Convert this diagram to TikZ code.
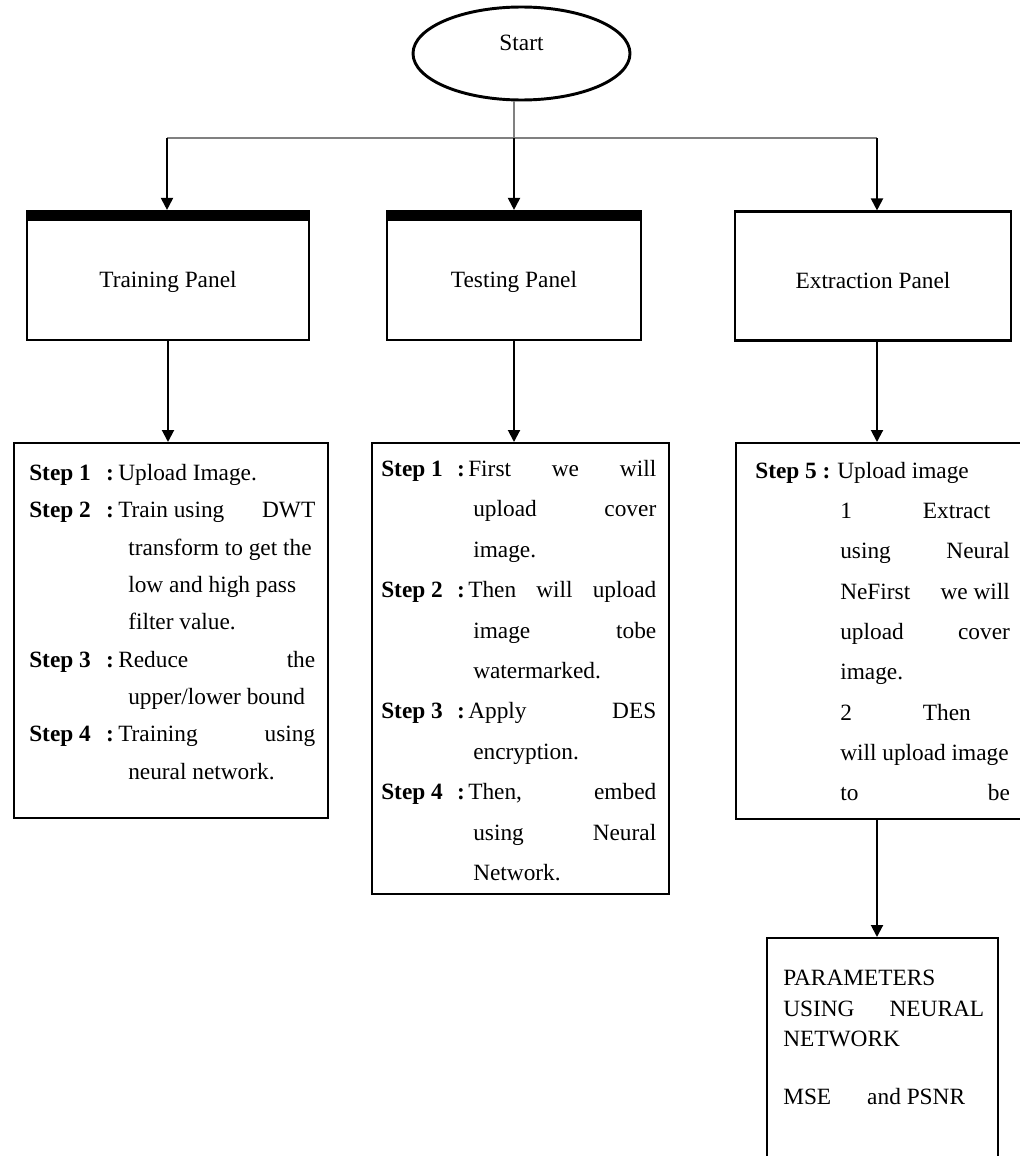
\documentclass[tikz,border=0pt]{standalone}
\usepackage{fontspec}
\setmainfont{Liberation Serif}
\usepackage{array}
\usetikzlibrary{shapes.geometric,arrows.meta}

\begin{document}
\begin{tikzpicture}[x=0.75pt,y=0.75pt,yscale=-1,xscale=1,
  every node/.style={font=\fontsize{17.5}{28}\selectfont},
  panelbox/.style={draw,line width=1.6pt,minimum height=96.75pt,inner sep=0pt,text height=20pt,text depth=2pt},
  stepsbox/.style={draw,line width=1.6pt,inner sep=0pt,anchor=north west},
  stepstext/.style={inner sep=0pt,anchor=north west},
  busline/.style={draw=gray,line width=0.8pt},
  arrowline/.style={line width=1.5pt,-{Triangle[length=9pt,width=9pt]}}]
\useasboundingbox (0,0) rectangle (1020,1156);
\clip (0,0) rectangle (1020,1156);

%Shape: Ellipse [start]
\node[draw,ellipse,line width=2.2pt,minimum width=162.75pt,minimum height=69.75pt,inner sep=0pt,text height=12pt,text depth=16pt] (start) at (521.5,53.5) {Start};

%Shape: Rectangle [panels]
\node[panelbox,minimum width=211.5pt] (trainpanel) at (168,275.5) {Training Panel};
\node[panelbox,minimum width=190.5pt] (testpanel) at (514,275.5) {Testing Panel};
\node[panelbox,minimum width=207pt] (extpanel) at (873,276) {Extraction Panel};
\fill (trainpanel.north west) rectangle ++(282,11);
\fill (testpanel.north west) rectangle ++(254,11);

%Shape: Rectangle [step boxes]
\node[stepsbox,minimum width=235.5pt,minimum height=281.25pt] (trainsteps) at (13,442) {};
\node[stepsbox,minimum width=222.75pt,minimum height=338.25pt] (teststeps) at (371,442) {};
\node[stepsbox,minimum width=216.75pt,minimum height=282pt] (extsteps) at (735,442) {};
\node[stepsbox,minimum width=173.25pt,minimum height=174.75pt] (params) at (766,937) {};

%Straight Lines [bus]
\coordinate (bus1) at (167,138);
\coordinate (bus2) at (514,138);
\coordinate (bus3) at (877,138);
\draw[busline] (start.south -| bus2) -- (bus2);
\draw[busline] (bus1) -- (bus3);

%Straight Lines [arrows]
\draw[arrowline] (bus1) -- (bus1 |- trainpanel.north);
\draw[arrowline] (bus2) -- (bus2 |- testpanel.north);
\draw[arrowline] (bus3) -- (bus3 |- extpanel.north);
\draw[arrowline] (trainpanel.south) -- (trainpanel.south |- trainsteps.north);
\draw[arrowline] (testpanel.south) -- (testpanel.south |- teststeps.north);
\draw[arrowline] (bus3 |- extpanel.south) -- (bus3 |- extsteps.north);
\draw[arrowline] (bus3 |- extsteps.south) -- (bus3 |- params.north);

% Text Node
\node[stepstext] (traintext) at (29,454) {\begin{tabular}{@{}p{57.75pt}@{}p{9pt}@{}p{147.75pt}@{}}
\textbf{Step 1} & \textbf{:} & Upload Image.\\
\textbf{Step 2} & \textbf{:} & Train using \hfill DWT\\
 & & \hspace*{7.5pt}transform to get the\\
 & & \hspace*{7.5pt}low and high pass\\
 & & \hspace*{7.5pt}filter value.\\
\textbf{Step 3} & \textbf{:} & Reduce \hfill the\\
 & & \hspace*{7.5pt}upper/lower bound\\
\textbf{Step 4} & \textbf{:} & Training \hfill using\\
 & & \hspace*{7.5pt}neural network.
\end{tabular}};
% Text Node
\node[stepstext] (testtext) at (381,448) {\fontsize{17.5}{30.3}\selectfont\begin{tabular}{@{}p{57pt}@{}p{8.25pt}@{}p{141pt}@{}}
\textbf{Step 1} & \textbf{:} & First \hfill we \hfill will\\
 & & \hspace*{3.75pt}upload \hfill cover\\
 & & \hspace*{3.75pt}image.\\
\textbf{Step 2} & \textbf{:} & Then \hfill will \hfill upload\\
 & & \hspace*{3.75pt}image \hfill tobe\\
 & & \hspace*{3.75pt}watermarked.\\
\textbf{Step 3} & \textbf{:} & Apply \hfill DES\\
 & & \hspace*{3.75pt}encryption.\\
\textbf{Step 4} & \textbf{:} & Then, \hfill embed\\
 & & \hspace*{3.75pt}using \hfill Neural\\
 & & \hspace*{3.75pt}Network.
\end{tabular}};
% Text Node
\node[stepstext] (exttext) at (755,450) {\fontsize{17.5}{30.2}\selectfont\begin{tabular}{@{}p{61.5pt}@{}p{129.5pt}@{}}
\textbf{Step 5 :} & Upload image\\
 & \hspace*{2.25pt}\makebox[62pt][l]{1}Extract\\
 & \hspace*{2.25pt}using \hfill Neural\\
 & \hspace*{2.25pt}NeFirst \hfill we will\\
 & \hspace*{2.25pt}upload \hfill cover\\
 & \hspace*{2.25pt}image.\\
 & \hspace*{2.25pt}\makebox[62pt][l]{2}Then\\
 & \hspace*{2.25pt}will upload image\\
 & \hspace*{2.25pt}to \hfill be
\end{tabular}};
% Text Node
\node[stepstext] (paramtext) at (783,964) {\fontsize{17.5}{22.9}\selectfont\begin{tabular}{@{}p{150.75pt}@{}}
PARAMETERS\\
USING \hfill NEURAL\\
NETWORK\\[20.6pt]
MSE\hspace{27pt}and PSNR
\end{tabular}};

\end{tikzpicture}
\end{document}
